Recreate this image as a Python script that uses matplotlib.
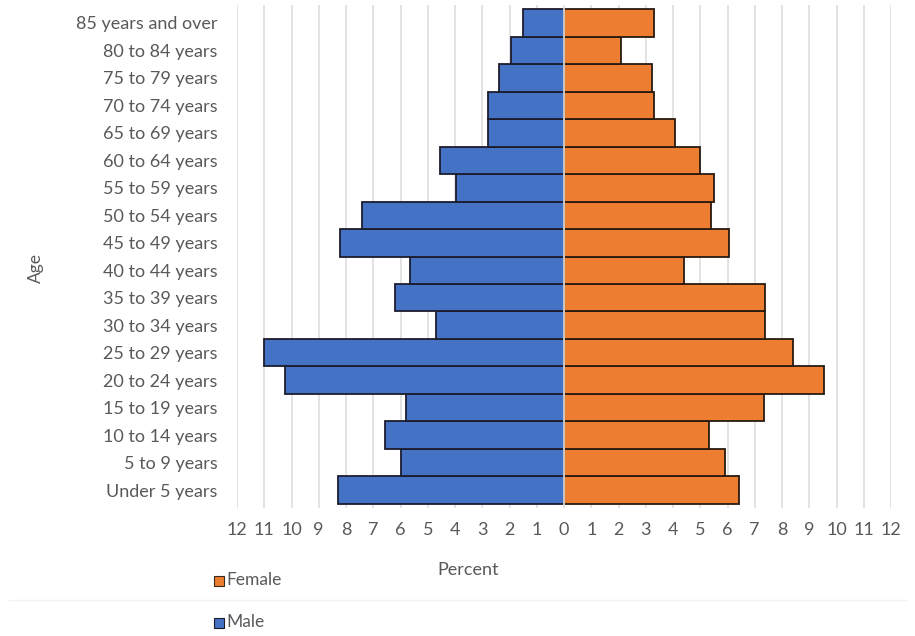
import numpy as np
import matplotlib.pyplot as plt
from matplotlib.patches import Rectangle

plt.rcParams['font.family'] = ['Lato', 'DejaVu Sans']

ages = ["Under 5 years", "5 to 9 years", "10 to 14 years", "15 to 19 years",
        "20 to 24 years", "25 to 29 years", "30 to 34 years", "35 to 39 years",
        "40 to 44 years", "45 to 49 years", "50 to 54 years", "55 to 59 years",
        "60 to 64 years", "65 to 69 years", "70 to 74 years", "75 to 79 years",
        "80 to 84 years", "85 years and over"]
male = [8.28, 5.98, 6.57, 5.80, 10.23, 11.0, 4.70, 6.19, 5.65, 8.21,
        7.42, 3.96, 4.55, 2.8, 2.8, 2.4, 1.95, 1.5]
female = [6.41, 5.89, 5.31, 7.33, 9.55, 8.42, 7.39, 7.39, 4.40, 6.04,
          5.39, 5.52, 4.98, 4.09, 3.30, 3.24, 2.11, 3.30]
ticks = list(range(-12, 13))

blue = "#4472C4"
orange = "#ED7D31"
grey = "#595959"

fig = plt.figure(figsize=(9.15, 6.36), dpi=100)
ax = fig.add_axes([237 / 915, 1 - 508 / 636, (891 - 237) / 915, 503 / 636])

y = np.arange(len(ages))
ax.barh(y, -np.array(male), height=1.0, color=blue, edgecolor="#1c1c2c", linewidth=1.3, zorder=2)
ax.barh(y, female, height=1.0, color=orange, edgecolor="#2a1a10", linewidth=1.3, zorder=2)
ax.axvline(0, color="#e6e6e6", linewidth=1.2, zorder=3)

ax.set_xlim(-12, 12)
ax.set_ylim(-0.65, 17.65)
ax.set_xticks(ticks)
ax.set_xticklabels([str(abs(t)) for t in ticks], color=grey, fontsize=13)
ax.set_yticks(y)
ax.set_yticklabels(ages, color=grey, fontsize=13)
ax.tick_params(length=0, pad=10)
ax.tick_params(axis="y", pad=14)
ax.grid(axis="x", color="#dedede", linewidth=1.2, zorder=0)
for s in ax.spines.values():
    s.set_visible(False)

fig.text(468 / 915, 1 - 570 / 636, "Percent", ha="center", va="center", color=grey, fontsize=13)
fig.text(36 / 915, 1 - 268 / 636, "Age", ha="center", va="center", rotation=90, color=grey, fontsize=12.5)

# legend
fig.add_artist(Rectangle((214 / 915, 1 - 586 / 636), 10 / 915, 10 / 636, facecolor=orange,
                         edgecolor="#3a2a1a", linewidth=0.8, transform=fig.transFigure))
fig.text(226 / 915, 1 - 580 / 636, "Female", ha="left", va="center", color=grey, fontsize=12.5)
fig.add_artist(Rectangle((214 / 915, 1 - 628 / 636), 10 / 915, 10 / 636, facecolor=blue,
                         edgecolor="#1c1c2c", linewidth=0.8, transform=fig.transFigure))
fig.text(226 / 915, 1 - 622 / 636, "Male", ha="left", va="center", color=grey, fontsize=12.5)
fig.add_artist(plt.Line2D([0.01, 0.99], [1 - 600 / 636, 1 - 600 / 636], color="#f2f2f2",
                          linewidth=1.0, transform=fig.transFigure))

fig.savefig("out.png", dpi=100)
